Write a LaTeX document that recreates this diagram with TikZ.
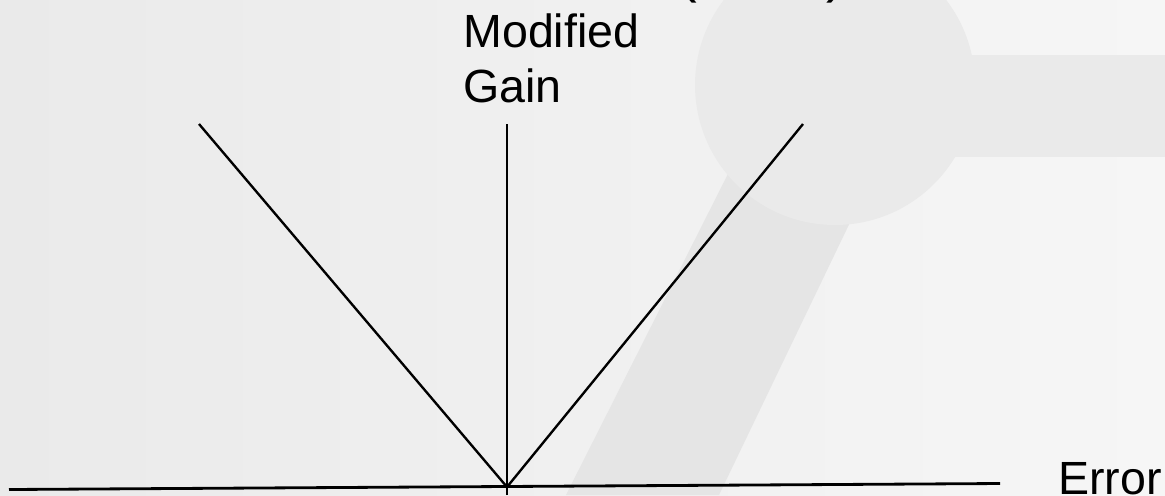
\documentclass[tikz,border=0pt]{standalone}
\usepackage{fontspec}
\setmainfont{Liberation Sans}

\definecolor{bgleft}{RGB}{234,234,234}
\definecolor{bgright}{RGB}{246,246,246}
\definecolor{markgray}{RGB}{234,234,234}
\definecolor{stemgray}{RGB}{229,229,229}

\tikzset{
     axislabel/.style={font=\fontsize{26.5}{31.2}\selectfont,inner sep=0pt,align=left},
     gainline/.style={line width=1.35pt},
}

\begin{document}
\begin{tikzpicture}[x=0.02cm,y=-0.02cm]
     \clip (0,0) rectangle (1165,495);

     % background and faint logo
     \shade[left color=bgleft,right color=bgright] (0,0) rectangle (1165,495);
     \fill[stemgray] (740,150) -- (880,160) -- (719,495) -- (566,495) -- cycle;
     \fill[markgray] (835,55) rectangle (1165,157);
     \fill[markgray] (835,85) circle (2.8cm);

     \coordinate (o) at (507,487);

     \draw[line width=1.6pt] (9,489.5) -- (1000,483.5) coordinate (xend);
     \draw[gainline] (507,495) -- (507,124) coordinate (yend);
     \draw[gainline] (o) -- (199,124) coordinate (lend);
     \draw[gainline] (o) -- (803,124) coordinate (rend);

     \node[axislabel,anchor=base west] (gain) at (463,102) {Modified\\Gain};
     \node[axislabel,anchor=base west] (err) at (1058,494) {Error};

     % bottoms of the cut-off title
     \node[font=\fontsize{32}{36}\selectfont,inner sep=0pt,anchor=base east] (lpar) at (698,-9) {(};
     \node[font=\fontsize{32}{36}\selectfont,inner sep=0pt,anchor=base west] (rpar) at (826,-9) {)};
\end{tikzpicture}
\end{document}
